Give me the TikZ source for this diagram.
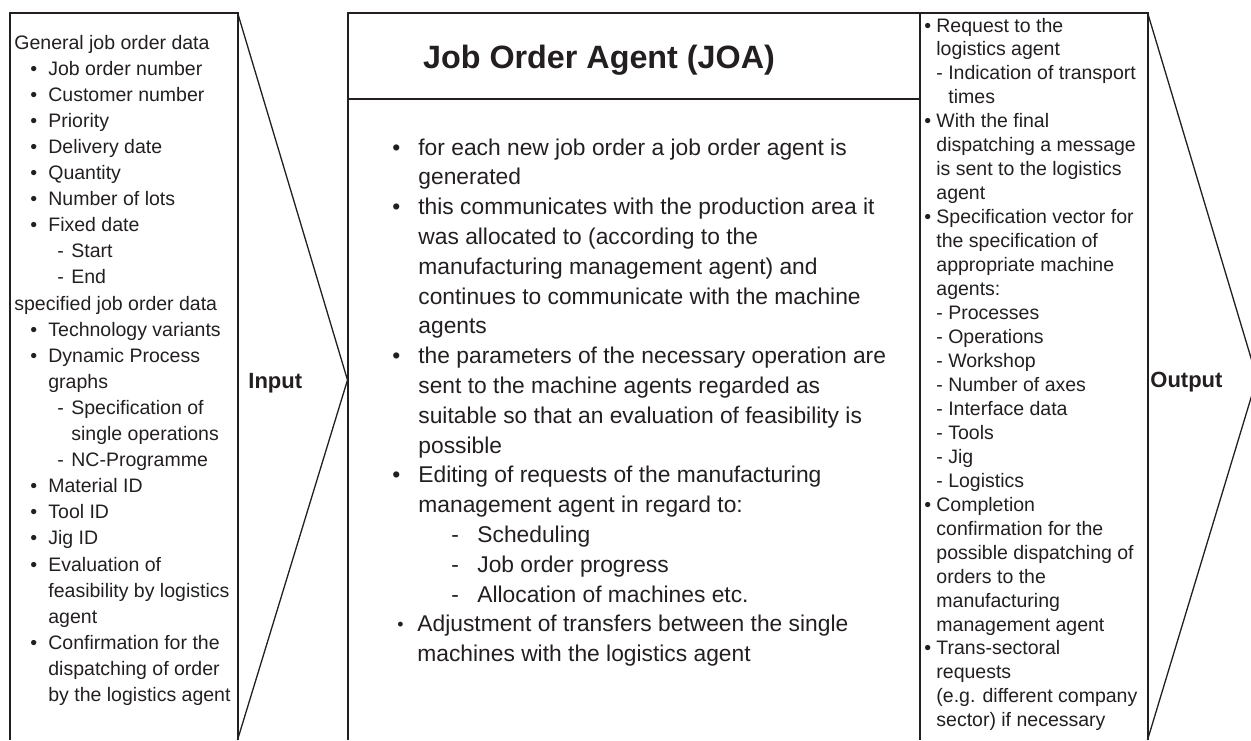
\documentclass[tikz,border=0pt]{standalone}
\usepackage{fontspec}
\setmainfont{Liberation Sans}
\usepackage{tikz}
\definecolor{ink}{HTML}{231F20}
\tikzstyle{frame} = [draw=ink, line width=1pt]
\tikzstyle{funnel} = [draw=ink, line width=0.65pt]
\tikzstyle{listtext} = [anchor=base west, inner sep=0pt, text=ink]
\tikzstyle{sidelabel} = [anchor=base west, inner sep=0pt, text=ink, font=\fontsize{11}{13}\selectfont\bfseries]
% line starts for the three lists
\newcommand{\inb}{\hspace*{8pt}\makebox[9pt][l]{\textbullet}}
\newcommand{\inc}{\hspace*{17pt}}
\newcommand{\ind}{\hspace*{21.5pt}\makebox[7pt][l]{-}}
\newcommand{\indc}{\hspace*{28.5pt}}
\newcommand{\jb}{\makebox[13pt][l]{\textbullet}}
\newcommand{\jc}{\hspace*{13pt}}
\newcommand{\jd}{\hspace*{29.5pt}\makebox[13pt][l]{-}}
\newcommand{\ja}{\hspace*{2.5pt}\makebox[10pt][l]{\raisebox{0.7pt}{\scalebox{0.78}{\textbullet}}}}
\newcommand{\ob}{\makebox[6pt][l]{\textbullet}}
\newcommand{\oc}{\hspace*{6pt}}
\newcommand{\od}{\hspace*{6pt}- }
\newcommand{\odc}{\hspace*{12pt}}

\begin{document}
\begin{tikzpicture}[x=0.5pt, y=-0.5pt]
\useasboundingbox (0,0) rectangle (1251,740);

% input side
\draw[frame] (10,740) -- (10,12.5) -- (237.5,12.5) -- (237.5,740);
\draw[funnel] (237.5,12.5) -- (347.5,380) -- (237.5,740);
\node[sidelabel] (inlabel) at (248,388) {Input};

% agent box
\draw[frame] (347.5,740) -- (347.5,12.5) -- (1147.5,12.5) -- (1147.5,740);
\draw[frame] (919.5,12.5) -- (919.5,740);
\draw[frame] (347.5,98.5) -- (919.5,98.5);
\node[anchor=base, inner sep=0pt, text=ink, font=\fontsize{16.15}{19}\selectfont\bfseries] (joatitle) at (599,68) {Job Order Agent (JOA)};

% output side
\draw[funnel] (1147.5,12.5) -- (1257,378) -- (1147.5,740);
\node[sidelabel] (outlabel) at (1150,387) {Output};

\node[listtext] (inlist) at (14,49) {\parbox[t]{115pt}{\fontsize{9.75}{13.05}\selectfont
General job order data\\
\inb Job order number\\
\inb Customer number\\
\inb Priority\\
\inb Delivery date\\
\inb Quantity\\
\inb Number of lots\\
\inb Fixed date\\
\ind Start\\
\ind End\\
specified job order data\\
\inb Technology variants\\
\inb Dynamic Process\\
\inc graphs\\
\ind Specification of\\
\indc single operations\\
\ind NC-Programme\\
\inb Material ID\\
\inb Tool ID\\
\inb Jig ID\\
\inb Evaluation of\\
\inc feasibility by logistics\\
\inc agent\\
\inb Confirmation for the\\
\inc dispatching of order\\
\inc by the logistics agent}};

\node[listtext] (joalist) at (392,155) {\parbox[t]{270pt}{\fontsize{11.4}{14.9}\selectfont
\jb for each new job order a job order agent is\\
\jc generated\\
\jb this communicates with the production area it\\
\jc was allocated to (according to the\\
\jc manufacturing management agent) and\\
\jc continues to communicate with the machine\\
\jc agents\\
\jb the parameters of the necessary operation are\\
\jc sent to the machine agents regarded as\\
\jc suitable so that an evaluation of feasibility is\\
\jc possible\\
\jb Editing of requests of the manufacturing\\
\jc management agent in regard to:\\
\jd Scheduling\\
\jd Job order progress\\
\jd Allocation of machines etc.\\
\ja Adjustment of transfers between the single\\
\hspace*{12.5pt}machines with the logistics agent}};

\node[listtext] (outlist) at (924,32) {\parbox[t]{115pt}{\fontsize{9.75}{11.98}\selectfont
\ob Request to the\\
\oc logistics agent\\
\od Indication of transport\\
\odc times\\
\ob With the final\\
\oc dispatching a message\\
\oc is sent to the logistics\\
\oc agent\\
\ob Specification vector for\\
\oc the specification of\\
\oc appropriate machine\\
\oc agents:\\
\od Processes\\
\od Operations\\
\od Workshop\\
\od Number of axes\\
\od Interface data\\
\od Tools\\
\od Jig\\
\od Logistics\\
\ob Completion\\
\oc confirmation for the\\
\oc possible dispatching of\\
\oc orders to the\\
\oc manufacturing\\
\oc management agent\\
\ob Trans-sectoral\\
\oc requests\\
\oc (e.g. different company\\
\oc sector) if necessary}};
\end{tikzpicture}
\end{document}
